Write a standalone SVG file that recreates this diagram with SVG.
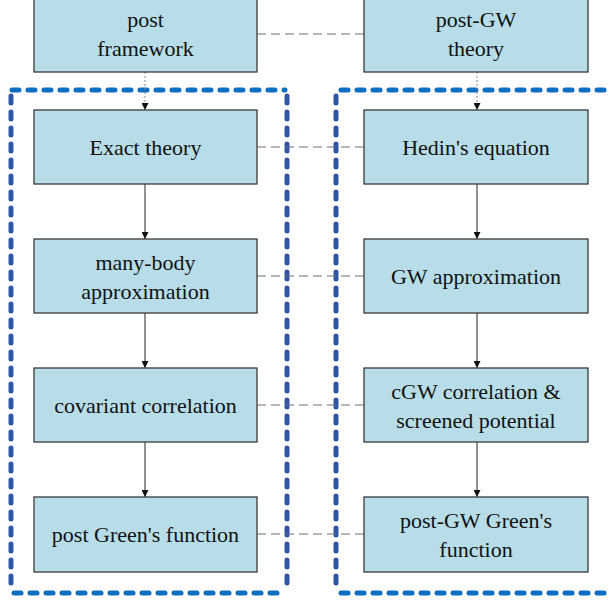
<svg xmlns="http://www.w3.org/2000/svg" width="611" height="603" viewBox="0 0 611 603">
<style>
.box{fill:#b7dde8;stroke:#3a3a3a;stroke-width:1.3}
.t{font-size:22px;fill:#111;text-anchor:middle}
.dh{fill:none;stroke:#6e6e6e;stroke-width:1.2;stroke-dasharray:9 5}
.ar{fill:none;stroke:#222;stroke-width:1;marker-end:url(#ah)}
.ard{fill:none;stroke:#888;stroke-width:1;stroke-dasharray:2 2;marker-end:url(#ah)}
.gh{fill:none;stroke:#0a6fc2;stroke-width:5;stroke-dasharray:7 9;stroke-linecap:round}
.gv{fill:none;stroke:#2f55a4;stroke-width:5;stroke-dasharray:7 9;stroke-linecap:round}
</style>
<defs>
<marker id="ah" viewBox="0 0 10 10" refX="10" refY="5" markerWidth="7" markerHeight="7" markerUnits="userSpaceOnUse" orient="auto">
<path d="M0,0 L10,5 L0,10 z" fill="#111"/>
</marker>
</defs>
<g id="groups">
<path class="gh" d="M12,90 H285 M14,593 H285"/>
<path class="gv" d="M11,96 V588 M287,96 V588"/>
<path class="gh" d="M341,90 H611 M341,593 H611"/>
<path class="gv" d="M336,96 V588"/>
</g>
<g id="connectors">
<path class="dh" d="M257,34 H364"/>
<path class="dh" d="M257,147 H364"/>
<path class="dh" d="M257,276 H364"/>
<path class="dh" d="M257,405 H364"/>
<path class="dh" d="M257,534 H364"/>
<path class="ard" d="M145,72 V110"/>
<path class="ard" d="M477,72 V110"/>
<path class="ar" d="M145,184 V239"/>
<path class="ar" d="M145,313 V368"/>
<path class="ar" d="M145,442 V497"/>
<path class="ar" d="M477,184 V239"/>
<path class="ar" d="M477,313 V368"/>
<path class="ar" d="M477,442 V497"/>
</g>
<g id="nodes" font-family="Liberation Serif, serif">
<g id="n1"><rect class="box" x="34" y="-3" width="223" height="75"/><text class="t" x="145.5" y="27">post</text><text class="t" x="145.5" y="56">framework</text></g>
<g id="n2"><rect class="box" x="364" y="-3" width="224" height="75"/><text class="t" x="476" y="27">post-GW</text><text class="t" x="476" y="56">theory</text></g>
<g id="n3"><rect class="box" x="34" y="110" width="223" height="74"/><text class="t" x="145.5" y="155">Exact theory</text></g>
<g id="n4"><rect class="box" x="364" y="110" width="224" height="74"/><text class="t" x="476" y="155">Hedin's equation</text></g>
<g id="n5"><rect class="box" x="34" y="239" width="223" height="74"/><text class="t" x="145.5" y="270">many-body</text><text class="t" x="145.5" y="299">approximation</text></g>
<g id="n6"><rect class="box" x="364" y="239" width="224" height="74"/><text class="t" x="476" y="284">GW approximation</text></g>
<g id="n7"><rect class="box" x="34" y="368" width="223" height="74"/><text class="t" x="145.5" y="413">covariant correlation</text></g>
<g id="n8"><rect class="box" x="364" y="368" width="224" height="74"/><text class="t" x="476" y="399">cGW correlation &amp;</text><text class="t" x="476" y="428">screened potential</text></g>
<g id="n9"><rect class="box" x="34" y="497" width="223" height="75"/><text class="t" x="145.5" y="542">post Green's function</text></g>
<g id="n10"><rect class="box" x="364" y="497" width="224" height="75"/><text class="t" x="476" y="528">post-GW Green's</text><text class="t" x="476" y="557">function</text></g>
</g>
</svg>
